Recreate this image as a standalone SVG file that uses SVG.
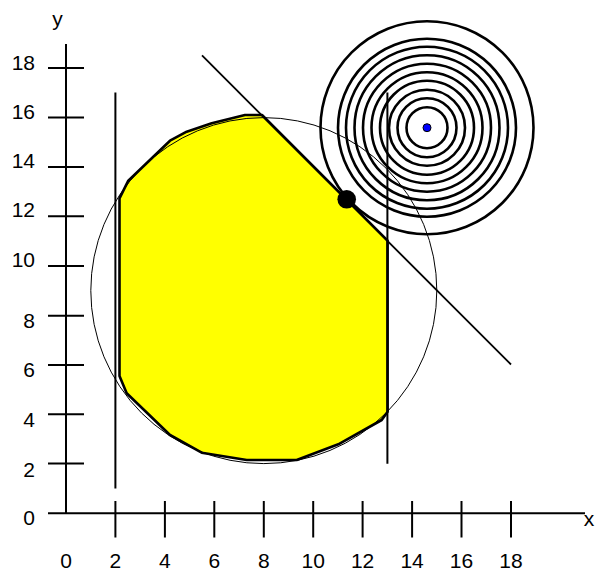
<svg xmlns="http://www.w3.org/2000/svg" width="595" height="572" viewBox="0 0 595 572">
<style>
.lbl{font-family:"Liberation Sans",Arial,sans-serif;font-size:21px;fill:#000}
.ax{stroke:#000;stroke-width:2;fill:none}
.ring{stroke:#000;stroke-width:2.6;fill:none}
</style>
<rect width="595" height="572" fill="#fff"/>
<g id="region">
<polygon points="119.5,198.3 128.3,180.7 170,140.7 186.7,131.7 211.7,123.3 245,115 262,115 387.6,240.6 387.6,411.7 381.7,420 338.3,444.3 296.7,460 246.7,460 201.7,452.7 170,435 126.7,393.3 119.5,376" fill="#ffff00" stroke="#000" stroke-width="2.6" stroke-linejoin="round"/>
</g>
<g id="axes">
<line class="ax" x1="66" y1="44" x2="66" y2="513.3"/>
<line class="ax" x1="48" y1="513.3" x2="585" y2="513.3"/>
<g class="ax">
<line x1="48" y1="68" x2="84" y2="68"/>
<line x1="48" y1="117.5" x2="84" y2="117.5"/>
<line x1="48" y1="167" x2="84" y2="167"/>
<line x1="48" y1="216.3" x2="84" y2="216.3"/>
<line x1="48" y1="266" x2="84" y2="266"/>
<line x1="48" y1="315.7" x2="84" y2="315.7"/>
<line x1="48" y1="365" x2="84" y2="365"/>
<line x1="48" y1="414.3" x2="84" y2="414.3"/>
<line x1="48" y1="463.6" x2="84" y2="463.6"/>
<line x1="115.4" y1="501" x2="115.4" y2="537.5"/>
<line x1="164.9" y1="501" x2="164.9" y2="537.5"/>
<line x1="214.3" y1="501" x2="214.3" y2="537.5"/>
<line x1="263.8" y1="501" x2="263.8" y2="537.5"/>
<line x1="313.2" y1="501" x2="313.2" y2="537.5"/>
<line x1="362.6" y1="501" x2="362.6" y2="537.5"/>
<line x1="412.1" y1="501" x2="412.1" y2="537.5"/>
<line x1="461.5" y1="501" x2="461.5" y2="537.5"/>
<line x1="511" y1="501" x2="511" y2="537.5"/>
</g>
<text class="lbl" x="57.5" y="26" text-anchor="middle">y</text>
<text class="lbl" x="589" y="526" text-anchor="middle">x</text>
<g class="lbl" text-anchor="end">
<text x="35" y="69.5">18</text>
<text x="35" y="118.5">16</text>
<text x="35" y="168">14</text>
<text x="35" y="216.7">12</text>
<text x="35" y="266.7">10</text>
<text x="35" y="328.3">8</text>
<text x="35" y="376.7">6</text>
<text x="35" y="426.7">4</text>
<text x="35" y="476.7">2</text>
<text x="35" y="525">0</text>
</g>
<g class="lbl" text-anchor="middle">
<text x="66" y="568">0</text>
<text x="115.4" y="568">2</text>
<text x="164.9" y="568">4</text>
<text x="214.3" y="568">6</text>
<text x="263.8" y="568">8</text>
<text x="313.2" y="568">10</text>
<text x="362.6" y="568">12</text>
<text x="412.1" y="568">14</text>
<text x="461.5" y="568">16</text>
<text x="511" y="568">18</text>
</g>
</g>
<g id="connectors">
<line x1="115.4" y1="92.6" x2="115.4" y2="488.5" stroke="#000" stroke-width="2"/>
<line x1="387.4" y1="92.6" x2="387.4" y2="463.8" stroke="#000" stroke-width="2"/>
<line x1="202" y1="55.4" x2="511" y2="364.5" stroke="#000" stroke-width="1.8"/>
</g>
<g id="circle">
<circle cx="263.8" cy="290.6" r="173" fill="none" stroke="#000" stroke-width="1"/>
</g>
<g id="rings">
<circle class="ring" cx="427" cy="127.7" r="20.5"/>
<circle class="ring" cx="427" cy="127.7" r="29.5"/>
<circle class="ring" cx="427" cy="127.7" r="38"/>
<circle class="ring" cx="427" cy="127.7" r="47"/>
<circle class="ring" cx="427" cy="127.7" r="55.5"/>
<circle class="ring" cx="427" cy="127.7" r="64"/>
<circle class="ring" cx="427" cy="127.7" r="72.5"/>
<circle class="ring" cx="427" cy="127.7" r="81"/>
<circle class="ring" cx="427" cy="127.7" r="89"/>
<circle class="ring" cx="427" cy="127.7" r="106.5"/>
</g>
<g id="center">
<circle cx="427" cy="127.7" r="4" fill="#0000ff" stroke="#000" stroke-width="1"/>
</g>
<g id="optimum">
<circle cx="346.7" cy="199.3" r="9.3" fill="#000"/>
</g>
</svg>
